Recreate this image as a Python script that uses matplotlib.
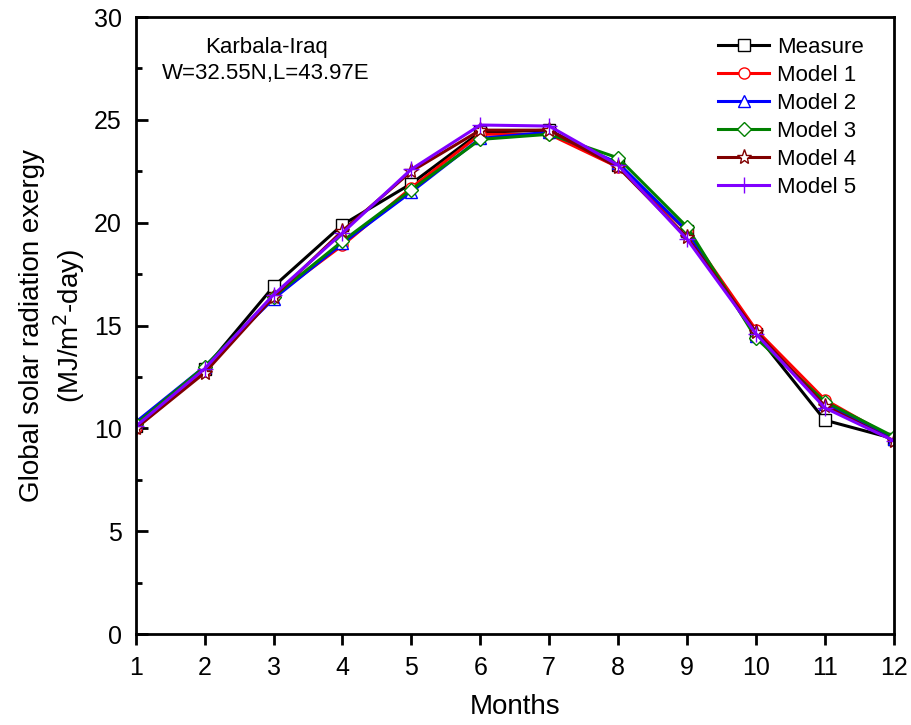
import matplotlib
matplotlib.use('Agg')
import matplotlib.pyplot as plt
from matplotlib.ticker import MultipleLocator

plt.rcParams['font.family'] = ['Liberation Sans', 'DejaVu Sans']

months = [1, 2, 3, 4, 5, 6, 7, 8, 9, 10, 11, 12]
measure = [10.1, 12.9, 16.9, 19.9, 21.9, 24.4, 24.5, 22.8, 19.6, 14.6, 10.4, 9.5]
model1 = [10.0, 12.8, 16.4, 18.9, 21.7, 24.3, 24.3, 22.7, 19.6, 14.8, 11.4, 9.5]
model2 = [10.3, 13.0, 16.3, 19.0, 21.5, 24.1, 24.4, 22.9, 19.6, 14.5, 11.2, 9.5]
model3 = [10.2, 13.0, 16.4, 19.1, 21.6, 24.05, 24.3, 23.15, 19.8, 14.4, 11.3, 9.6]
model4 = [10.0, 12.7, 16.4, 19.6, 22.5, 24.5, 24.5, 22.7, 19.3, 14.7, 11.1, 9.4]
model5 = [10.1, 12.9, 16.5, 19.5, 22.6, 24.75, 24.7, 22.8, 19.2, 14.6, 11.0, 9.4]

series = [
    ('Measure', measure, 'black', 's'),
    ('Model 1', model1, 'red', 'o'),
    ('Model 2', model2, 'blue', '^'),
    ('Model 3', model3, 'green', 'D'),
    ('Model 4', model4, '#800000', '*'),
    ('Model 5', model5, '#8000ff', '+'),
]

fig = plt.figure(figsize=(9.11, 7.25), dpi=100)
ax = fig.add_axes([0.149, 0.1255, 0.832, 0.851])

for name, vals, c, m in series:
    ms = 11 if m in ('*', '+') else 8
    if m == 'D':
        ms = 7.5
    ax.plot(months, vals, color=c, lw=2.2, marker=m, ms=ms,
            mfc='white', mec=c, mew=1.0, label=name)

ax.set_xlim(1, 12)
ax.set_ylim(0, 30)
ax.xaxis.set_major_locator(MultipleLocator(1))
ax.yaxis.set_major_locator(MultipleLocator(5))
ax.yaxis.set_minor_locator(MultipleLocator(2.5))
ax.tick_params(axis='x', which='major', direction='out', length=8, width=2,
               labelsize=18, pad=8)
ax.tick_params(axis='y', which='major', direction='in', length=8.5, width=2,
               labelsize=18, pad=10)
ax.tick_params(axis='y', which='minor', direction='in', length=4.5, width=2)
for s in ax.spines.values():
    s.set_linewidth(2)

ax.set_xlabel('Months', fontsize=20, labelpad=10)
ax.set_ylabel('Global solar radiation exergy\n(MJ/m$^2$-day)', fontsize=20,
              labelpad=5, linespacing=1.2)

ax.text(0.172, 0.968, 'Karbala-Iraq\nW=32.55N,L=43.97E', transform=ax.transAxes,
        ha='center', va='top', fontsize=16, linespacing=1.3)

ax.legend(loc='upper right', bbox_to_anchor=(0.978, 0.99), frameon=False,
          fontsize=16, handlelength=2.3, handletextpad=0.35,
          labelspacing=0.32, borderaxespad=0.2)

plt.savefig('out.png', dpi=100)
